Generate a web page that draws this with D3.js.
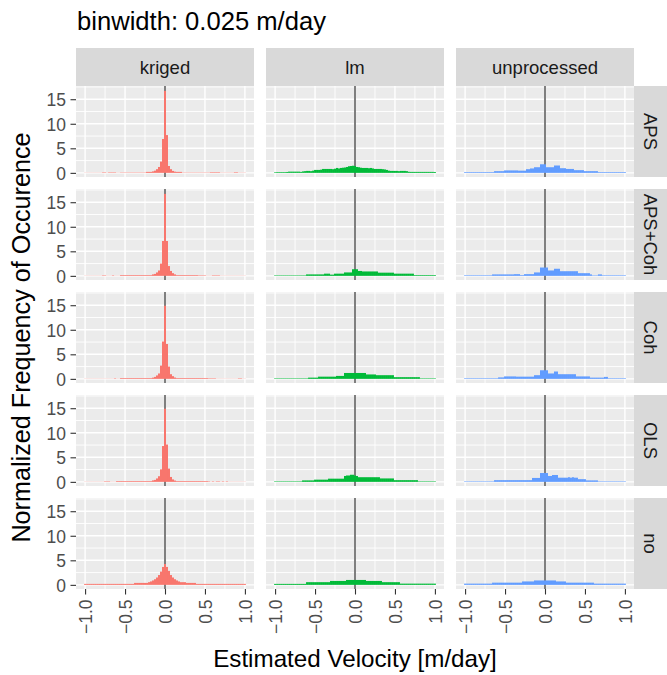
<!DOCTYPE html>
<html>
<head>
<meta charset="utf-8">
<script src="https://cdn.jsdelivr.net/npm/d3@7"></script>
<style>
  body { margin: 0; background: #fff; }
  svg text { font-family: "Liberation Sans", Arial, sans-serif; }
</style>
</head>
<body>
<svg id="chart" width="667" height="675"></svg>
<script>
// facet labels
const methods = ["kriged", "lm", "unprocessed"];
const corrections = ["APS", "APS+Coh", "Coh", "OLS", "no"];
const methodColors = ["#F8766D", "#00BA38", "#619CFF"];
const xTicks = [-1.0, -0.5, 0.0, 0.5, 1.0];
const yTicks = [0, 5, 10, 15];
const binWidth = 0.025;
const firstBinCenter = -1.0;

// normalized counts, 81 bins centred on -1.000 ... 1.000
const krigedAPS = [0.03,0.03,0.03,0.03,0.03,0.03,0.03,0.03,0.03,
  0.1,0.1,0.03,0.1,0.1,0.1,0.1,0.03,0.03,
  0.07,0.07,0.07,0.07,0.07,0.07,0.07,0.07,0.07,0.07,0.07,0.07,0.07,
  0.2,0.2,0.2,
  0.3,0.45,0.75,1.2,2.3,6.9,16.7,7.7,1.4,0.75,0.4,0.25,
  0.2,0.2,0.2,
  0.06,0.06,0.06,0.06,0.06,0.06,0.06,0.06,0.06,0.06,0.06,0.06,0.06,0.06,
  0.12,0.12,0.12,0.12,0.12,
  0.04,0.04,0.04,0.04,0.04,0.04,0.04,
  0.12,0.12,
  0.04,0.04,0.04,0.04];
const krigedAPSCoh = [0.03,0.03,0.03,0.03,0.03,0.03,0.03,0.03,0.03,
  0.1,0.1,0.03,0.03,0.03,0.1,0.03,0.03,0.03,
  0.15,0.15,0.15,0.15,0.15,0.15,0.15,0.15,0.15,0.15,0.15,0.15,0.15,0.15,0.15,0.15,
  0.3,0.4,0.7,1.1,2.5,7.1,16.7,7.1,2.0,1.0,0.55,0.3,
  0.15,0.15,0.15,0.15,0.15,0.15,0.15,0.15,0.15,0.15,0.15,
  0.1,0.1,0.1,0.1,
  0.03,0.03,0.03,
  0.1,0.1,0.1,0.1,
  0.03,0.03,0.03,0.03,0.03,0.03,0.03,0.03,0.03,0.03,0.03,0.03,0.03];
const krigedCoh = [0.03,0.03,0.03,0.03,0.03,0.03,0.03,0.03,0.03,
  0.03,0.03,0.03,0.03,0.03,0.03,0.1,0.03,0.03,
  0.15,0.15,0.15,0.15,0.15,0.15,0.15,0.15,0.15,0.15,0.15,0.15,0.15,0.15,0.15,0.15,
  0.25,0.4,0.7,1.1,2.7,7.6,14.9,7.1,2.5,0.95,0.55,0.27,
  0.15,0.15,0.15,0.15,0.15,0.15,0.15,0.15,0.15,0.15,0.15,0.15,0.15,0.15,0.15,0.15,
  0.1,0.1,0.1,0.1,
  0.03,0.03,0.03,0.03,0.03,0.03,0.03,0.03,0.03,0.03,0.03,
  0.1,0.1,
  0.03,0.03];
const krigedOLS = [0.03,0.03,0.03,0.03,0.03,0.03,0.03,0.03,0.03,
  0.03,0.1,0.1,0.1,0.03,0.03,0.03,
  0.15,0.15,0.15,0.15,0.15,0.15,0.15,0.15,0.15,0.15,0.15,0.15,0.15,0.15,0.15,0.15,0.15,0.15,
  0.3,0.4,0.7,1.15,2.55,7.3,14.9,7.6,2.7,1.0,0.5,0.27,
  0.15,0.15,0.15,0.15,0.15,0.15,0.15,0.15,0.15,0.15,0.15,0.15,0.15,0.15,0.15,0.15,
  0.1,0.03,0.1,0.03,0.1,0.1,0.03,0.1,0.03,0.1,
  0.03,0.03,0.03,0.03,0.03,0.03,0.03,0.03,0.03];
const krigedNo = [0.2,0.2,0.2,0.2,0.2,0.2,0.2,0.2,0.2,0.2,0.2,0.2,0.2,0.2,0.2,0.2,0.2,0.2,0.2,0.2,0.2,0.2,0.2,0.2,0.2,
  0.4,0.4,0.4,0.4,0.4,0.4,0.4,
  0.55,0.7,0.9,1.15,1.5,2.0,2.7,3.65,4.25,3.65,2.85,2.0,1.5,1.15,0.9,0.7,
  0.55,0.55,0.55,
  0.4,0.4,0.4,0.4,0.4,
  0.2,0.2,0.2,0.2,0.2,0.2,0.2,0.2,0.2,0.2,0.2,0.2,0.2,0.2,0.2,0.2,0.2,0.2,0.2,0.2,0.2,0.2,0.2,0.2,0.2];

const lmAPS = [0.12,0.15,0.15,0.15,0.15,0.15,0.18,
  0.25,0.25,0.25,0.25,0.25,0.25,0.2,0.3,0.35,
  0.4,0.4,0.35,0.45,
  0.6,0.6,0.6,0.65,
  0.8,0.8,0.8,0.8,0.8,0.75,0.85,
  1.0,0.9,1.0,1.05,1.1,
  1.2,1.35,1.4,1.45,1.4,
  1.2,1.15,
  1.05,1.0,1.0,1.0,0.95,1.0,0.9,
  0.8,0.8,0.8,0.8,0.75,0.7,
  0.6,
  0.45,0.4,0.4,0.4,0.4,0.35,0.4,0.4,0.4,0.35,
  0.22,0.2,0.2,0.2,0.2,0.2,0.2,0.2,0.2,0.2,0.2,0.2,0.2,0.18];
const lmAPSCoh = [0.1,0.1,0.1,0.1,0.1,0.1,0.1,0.1,0.1,0.1,0.1,0.1,0.1,0.1,0.1,0.1,
  0.3,0.3,0.3,0.3,0.3,0.3,0.3,0.3,0.3,
  0.45,0.45,0.45,0.25,0.25,0.45,0.45,0.45,0.45,0.45,
  0.7,0.7,0.7,0.7,
  1.35,1.35,1.35,
  1.0,1.0,
  0.9,0.9,0.9,0.9,0.9,0.9,0.9,0.9,
  0.65,0.65,0.65,0.65,0.65,0.65,0.65,0.65,
  0.45,0.45,0.45,0.45,0.45,0.45,0.45,0.45,0.45,0.45,
  0.15,0.15,0.15,0.15,0.15,0.15,0.15,0.15,0.15,0.15,0.15];
const lmCoh = [0.1,0.1,0.1,0.1,0.1,0.1,0.1,0.1,0.1,0.1,0.1,0.1,0.1,0.1,0.1,0.1,0.1,
  0.25,0.25,0.25,0.25,0.25,
  0.45,0.45,0.45,0.45,0.45,0.45,0.45,0.45,0.45,
  0.6,0.6,0.6,0.6,
  1.2,1.2,1.2,1.2,1.2,1.2,1.2,1.2,1.2,1.2,1.2,
  0.9,0.9,0.9,0.9,0.9,
  0.75,0.75,0.75,0.75,0.75,0.75,0.75,0.75,0.75,
  0.35,0.35,0.35,0.35,0.35,0.35,0.35,0.35,0.35,0.35,0.35,0.35,0.35,
  0.1,0.1,0.1,0.1,0.1,0.1,0.1,0.1];
const lmOLS = [0.1,0.1,0.1,0.1,0.1,0.1,0.1,0.1,0.1,0.1,0.1,0.1,0.1,0.1,
  0.3,0.3,0.3,0.3,0.3,0.3,
  0.45,0.45,0.45,0.45,0.45,0.45,0.45,
  0.65,0.65,0.65,0.65,0.65,0.65,0.65,0.65,
  1.2,1.3,1.3,1.45,1.45,1.3,1.2,
  0.95,0.95,0.95,0.95,0.95,0.95,0.95,0.95,0.95,0.95,0.95,
  0.7,0.7,0.7,0.7,0.7,0.7,0.7,
  0.35,0.35,0.35,0.35,0.35,0.35,0.35,0.35,0.35,0.35,0.35,0.35,
  0.1,0.1,0.1,0.1,0.1,0.1,0.1,0.1,0.1];
const lmNo = [0.2,0.2,0.2,0.2,0.2,0.2,0.2,0.2,0.2,0.2,0.2,0.2,0.2,0.2,0.2,0.2,
  0.55,0.55,0.55,0.55,0.55,0.55,0.55,0.55,0.55,0.55,0.55,0.55,
  0.8,0.8,0.8,0.8,0.8,0.8,0.8,0.8,
  1.0,1.0,1.0,1.0,1.0,1.0,1.0,1.0,1.0,1.0,
  0.8,0.8,0.8,0.8,0.8,0.8,0.8,0.8,
  0.55,0.55,0.55,0.55,0.55,0.55,0.55,0.55,0.55,
  0.25,0.25,0.25,0.25,0.25,0.25,0.25,0.25,0.25,0.25,0.25,0.25,0.25,0.25,0.25,0.25,0.25,0.25];

const unprocAPS = [0.15,0.15,0.15,0.15,0.15,0.15,0.15,0.15,0.15,0.15,0.15,0.15,0.15,0.15,0.15,
  0.35,0.35,0.35,0.35,0.35,
  0.5,0.5,0.5,0.5,0.5,0.5,0.5,
  0.45,0.45,0.45,0.45,
  0.75,0.75,
  0.9,0.9,
  1.15,1.15,1.15,
  1.75,1.75,1.75,
  1.15,1.15,1.15,1.15,
  1.5,1.5,1.5,
  0.95,0.95,0.95,
  0.8,0.8,0.8,0.8,
  0.55,0.55,0.55,0.55,0.55,
  0.35,0.35,0.35,0.35,0.35,0.35,0.35,
  0.15,0.15,0.15,0.15,0.15,0.15,0.15,0.15,0.15,0.15,0.15,0.15,0.15,0.15];
const unprocAPSCoh = [0.12,0.12,0.12,0.12,0.12,0.12,0.12,0.12,0.12,0.12,0.12,0.12,0.12,0.12,
  0.3,0.3,0.3,0.3,0.3,0.3,0.3,0.3,0.3,0.3,0.3,
  0.35,0.35,0.35,0.15,0.15,0.35,0.35,0.35,0.35,0.35,
  0.7,0.7,0.7,
  1.7,1.7,1.7,1.7,
  1.1,1.1,1.1,
  1.45,1.45,1.45,
  0.95,0.95,0.95,0.95,0.95,0.95,0.95,0.95,0.95,
  0.55,0.55,0.55,0.55,0.55,0.55,
  0.3,0.1,0.1,0.1,0.3,0.3,
  0.12,0.12,0.12,0.12,0.12,0.12,0.12,0.12,0.12,0.12,0.12,0.12];
const unprocCoh = [0.12,0.12,0.12,0.12,0.12,0.12,0.12,0.12,0.12,0.12,0.12,0.12,0.12,0.12,0.12,0.12,0.12,
  0.3,0.3,0.3,
  0.5,0.5,0.5,0.5,0.5,0.5,
  0.45,0.45,0.45,0.45,0.45,0.45,0.45,0.45,0.45,
  0.75,0.75,0.75,
  1.75,1.75,1.75,1.75,
  1.1,1.1,1.1,
  1.5,1.5,
  0.95,0.95,0.95,0.95,0.95,0.95,0.95,0.95,0.95,
  0.5,0.5,0.5,0.5,0.5,0.5,0.5,
  0.25,0.25,0.25,0.25,0.25,0.25,0.25,
  0.4,0.4,
  0.12,0.12,0.12,0.12,0.12,0.12,0.12,0.12,0.12];
const unprocOLS = [0.1,0.1,0.1,0.1,0.1,0.1,0.1,0.1,0.1,0.1,0.1,0.1,0.1,0.1,0.1,
  0.35,0.35,0.35,0.35,0.35,0.35,0.35,0.35,0.35,0.35,0.35,0.35,0.35,0.35,0.35,0.35,0.35,0.35,0.35,
  0.8,0.8,0.8,0.8,
  1.8,1.8,1.8,1.8,
  1.2,1.2,
  1.4,1.4,1.4,
  0.85,0.85,0.85,0.85,0.85,0.95,0.85,0.95,0.85,0.85,
  0.55,0.55,0.55,0.55,
  0.3,0.3,0.3,0.3,0.3,0.3,
  0.1,0.1,0.1,0.1,0.1,0.1,0.1,0.1,0.1,0.1,0.1,0.1,0.1,0.1];
const unprocNo = [0.25,0.25,0.25,0.25,0.25,0.25,0.25,0.25,0.25,0.25,0.25,0.25,0.25,0.25,
  0.45,0.45,0.45,0.45,0.45,0.45,0.45,0.45,0.45,0.45,0.45,0.45,0.45,0.45,0.45,
  0.7,0.7,0.7,0.7,0.7,0.7,
  0.9,0.9,0.9,0.9,0.9,0.9,0.9,0.9,0.9,0.9,0.9,
  0.7,0.7,0.7,0.7,0.7,
  0.45,0.45,0.45,0.45,0.45,0.45,0.45,0.45,0.45,0.45,0.45,0.45,0.45,0.45,
  0.25,0.25,0.25,0.25,0.25,0.25,0.25,0.25,0.25,0.25,0.25,0.25,0.25,0.25,0.25,0.25];

// rows = corrections, cols = methods
const panelData = [
  [krigedAPS, lmAPS, unprocAPS],
  [krigedAPSCoh, lmAPSCoh, unprocAPSCoh],
  [krigedCoh, lmCoh, unprocCoh],
  [krigedOLS, lmOLS, unprocOLS],
  [krigedNo, lmNo, unprocNo]
];

const chart = d3.select("#chart");
const panelW = 178, panelH = 91;
const colX = [76, 266, 456];
const rowY = [86, 189, 292, 395, 498];

const x = d3.scaleLinear().domain([-1.11375, 1.11375]).range([0, panelW]);
const y = d3.scaleLinear().domain([-0.8425, 17.6925]).range([panelH, 0]);

const xMinor = [-0.75, -0.25, 0.25, 0.75];
const yMinor = [2.5, 7.5, 12.5, 17.5];

corrections.forEach(function(corr, r) {
  methods.forEach(function(meth, c) {
    let g = chart.append("g")
      .attr("transform", "translate(" + colX[c] + "," + rowY[r] + ")");

    g.append("rect")
      .attr("width", panelW).attr("height", panelH)
      .style("fill", "#EBEBEB");

    // grid
    g.selectAll(".xminor").data(xMinor).enter().append("line")
      .attr("x1", d => x(d)).attr("x2", d => x(d))
      .attr("y1", 0).attr("y2", panelH)
      .style("stroke", "#fff").style("stroke-width", 0.9);
    g.selectAll(".yminor").data(yMinor).enter().append("line")
      .attr("y1", d => y(d)).attr("y2", d => y(d))
      .attr("x1", 0).attr("x2", panelW)
      .style("stroke", "#fff").style("stroke-width", 0.9);
    g.selectAll(".xmajor").data(xTicks).enter().append("line")
      .attr("x1", d => x(d)).attr("x2", d => x(d))
      .attr("y1", 0).attr("y2", panelH)
      .style("stroke", "#fff").style("stroke-width", 1.4);
    g.selectAll(".ymajor").data(yTicks).enter().append("line")
      .attr("y1", d => y(d)).attr("y2", d => y(d))
      .attr("x1", 0).attr("x2", panelW)
      .style("stroke", "#fff").style("stroke-width", 1.4);

    // zero line
    g.append("line")
      .attr("x1", x(0)).attr("x2", x(0))
      .attr("y1", 0).attr("y2", panelH)
      .style("stroke", "#7F7F7F").style("stroke-width", 2);

    // histogram bars
    let bins = panelData[r][c].map(function(v, i) {
      let x0 = firstBinCenter - binWidth / 2 + i * binWidth;
      return { x0: x0, x1: x0 + binWidth, v: v };
    });
    g.selectAll(".bar").data(bins).enter().append("rect")
      .attr("x", d => x(d.x0))
      .attr("width", d => x(d.x1) - x(d.x0))
      .attr("y", d => y(d.v))
      .attr("height", d => y(0) - y(d.v))
      .style("fill", methodColors[c]);

    // left axis
    if (c === 0) {
      let ax = g.append("g")
        .call(d3.axisLeft(y).tickValues(yTicks).tickSize(5.5).tickPadding(4.5).tickFormat(d3.format("d")));
      ax.select(".domain").remove();
      ax.selectAll("line").style("stroke", "#333333").style("stroke-width", 1.1);
      ax.selectAll("text")
        .style("font-size", "17.5px")
        .style("fill", "#4D4D4D")
        .attr("dy", "0.36em");
    }

    // bottom axis
    if (r === corrections.length - 1) {
      let ax = g.append("g")
        .attr("transform", "translate(0," + panelH + ")")
        .call(d3.axisBottom(x).tickValues(xTicks).tickSize(5.5).tickFormat(d => d3.format(".1f")(d).replace("-", "\u2212")));
      ax.select(".domain").remove();
      ax.selectAll("line").style("stroke", "#333333").style("stroke-width", 1.1);
      ax.selectAll("text")
        .attr("y", 0).attr("dy", "0.36em")
        .attr("x", -10.5)
        .attr("transform", "rotate(-90)")
        .style("text-anchor", "end")
        .style("font-size", "17.5px")
        .style("fill", "#4D4D4D");
    }
  });
});

// top strips
methods.forEach(function(meth, c) {
  chart.append("rect")
    .attr("x", colX[c]).attr("y", 48)
    .attr("width", panelW).attr("height", 38)
    .style("fill", "#D9D9D9");
  chart.append("text")
    .attr("x", colX[c] + panelW / 2).attr("y", 67)
    .attr("dy", "0.36em")
    .style("text-anchor", "middle")
    .style("font-size", "18.5px")
    .style("fill", "#1A1A1A")
    .text(meth);
});

// right strips
corrections.forEach(function(corr, r) {
  chart.append("rect")
    .attr("x", 634).attr("y", rowY[r])
    .attr("width", 33).attr("height", panelH)
    .style("fill", "#D9D9D9");
  chart.append("text")
    .attr("transform", "translate(650.5," + (rowY[r] + panelH / 2) + ") rotate(90)")
    .attr("dy", "0.36em")
    .style("text-anchor", "middle")
    .style("font-size", "18.5px")
    .style("fill", "#1A1A1A")
    .text(corr);
});

// titles
chart.append("text")
  .attr("x", 77).attr("y", 30)
  .style("font-size", "25.6px")
  .style("fill", "#000")
  .text("binwidth: 0.025 m/day");

chart.append("text")
  .attr("x", 355).attr("y", 667)
  .style("text-anchor", "middle")
  .style("font-size", "24.2px")
  .style("fill", "#000")
  .text("Estimated Velocity [m/day]");

chart.append("text")
  .attr("transform", "translate(29.5," + ((86 + 589) / 2) + ") rotate(-90)")
  .style("text-anchor", "middle")
  .style("font-size", "25.2px")
  .style("fill", "#000")
  .text("Normalized Frequency of Occurence");
</script>
</body>
</html>
